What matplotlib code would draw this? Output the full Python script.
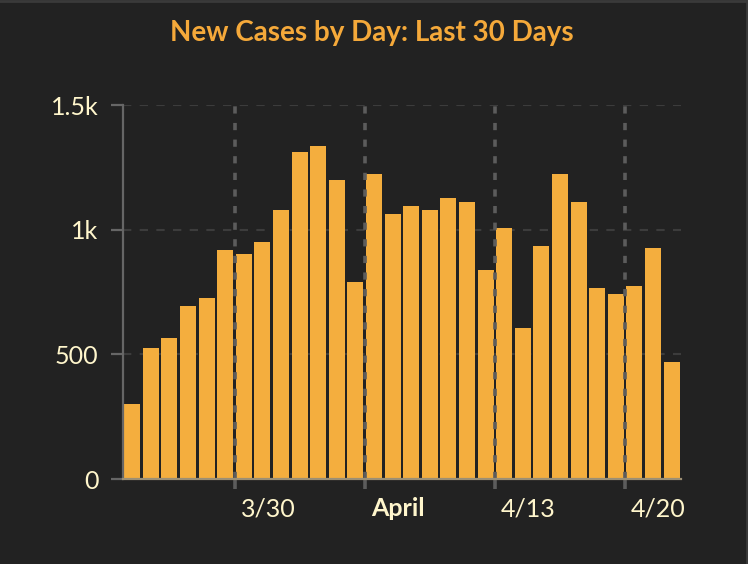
import matplotlib
matplotlib.use("Agg")
import matplotlib.pyplot as plt
import matplotlib.transforms as mtransforms
from matplotlib.lines import Line2D

# daily new cases, 3/24 .. 4/22
days = ["3/24", "3/25", "3/26", "3/27", "3/28", "3/29", "3/30", "3/31",
        "4/1", "4/2", "4/3", "4/4", "4/5", "4/6", "4/7", "4/8", "4/9",
        "4/10", "4/11", "4/12", "4/13", "4/14", "4/15", "4/16", "4/17",
        "4/18", "4/19", "4/20", "4/21", "4/22"]
cases = [300, 525, 565, 693, 725, 918, 902, 950, 1078, 1311, 1335, 1199,
         790, 1223, 1062, 1094, 1078, 1126, 1110, 838, 1006, 605, 934,
         1223, 1110, 766, 742, 774, 926, 469]

week_days   = ["3/30", "4/6", "4/13", "4/20"]
week_labels = ["3/30", "April", "4/13", "4/20"]
y_ticks     = [0, 500, 1000, 1500]
y_labels    = ["0", "500", "1k", "1.5k"]

BG    = "#222222"
BAR   = "#F4AE3E"
TITLE = "#F5A93A"
TEXT  = "#FFF6CC"

plt.rcParams["font.family"] = ["Lato", "DejaVu Sans"]

fig = plt.figure(figsize=(7.48, 5.64), dpi=100, facecolor=BG)
ax = fig.add_axes([0.1644, 0.1507, 0.746, 0.6631], facecolor=BG)

xs = [i + 0.5 for i in range(len(days))]
ax.bar(xs, cases, width=0.86, color=BAR, zorder=2)

ax.set_xlim(0, len(days))
ax.set_ylim(0, 1500)

# horizontal grid
for v in y_ticks[1:]:
    ax.axhline(v, color="#3c3c3c", lw=1.5, dashes=(4, 4), zorder=1)

# week lines
week_pos = [days.index(d) for d in week_days]
for p in week_pos:
    ax.axvline(p, color="#5c5c5c", lw=2.6, dashes=(2, 2.6), zorder=3)

for s in ["top", "right"]:
    ax.spines[s].set_visible(False)
ax.spines["left"].set_color("#666666")
ax.spines["left"].set_linewidth(1.6)
ax.spines["bottom"].set_color("#9c8f74")
ax.spines["bottom"].set_linewidth(1.6)
ax.spines["bottom"].set_zorder(4)

ax.set_yticks(y_ticks)
ax.set_yticklabels(y_labels)
ax.tick_params(axis="y", colors="#666666", length=8.5, width=1.6, pad=9,
               labelcolor=TEXT, labelsize=18)

ax.set_xticks(week_pos)
ax.set_xticklabels(week_labels)
ax.tick_params(axis="x", colors="#5c5c5c", length=7, width=2.6, pad=6,
               labelcolor=TEXT, labelsize=18)
offset = mtransforms.ScaledTranslation(6 / 100, 0, fig.dpi_scale_trans)
for lab in ax.get_xticklabels():
    lab.set_horizontalalignment("left")
    lab.set_transform(lab.get_transform() + offset)
    if lab.get_text() == "April":
        lab.set_fontweight("bold")

fig.text(0.4967, 0.941, "New Cases by Day: Last 30 Days", color=TITLE,
         fontsize=20, fontweight="bold", ha="center", va="center")

# frame edges
fig.add_artist(Line2D([0, 1], [0.998, 0.998], color="#3a3a3a", lw=2,
                      transform=fig.transFigure))
fig.add_artist(Line2D([0.998, 0.998], [0, 1], color="#3a3a3a", lw=2,
                      transform=fig.transFigure))

fig.savefig("out.png", dpi=100, facecolor=BG)
